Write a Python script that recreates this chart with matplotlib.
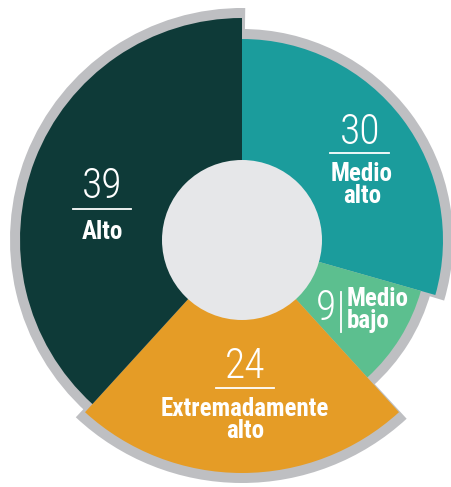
import numpy as np
import matplotlib.pyplot as plt
from matplotlib.patches import Wedge, Circle

# datos (sentido horario desde las 12)
categorias = ['Medio alto', 'Medio bajo', 'Extremadamente alto', 'Alto']
etiquetas = ['Medio\nalto', 'Medio\nbajo', 'Extremadamente\nalto', 'Alto']
valores = [30, 9, 24, 39]

colores = ['#1b9c9c', '#5cbf8f', '#e59c26', '#0e3a38']
radios = [201, 186, 233, 222]   # px
gris = '#bebfc2'
centro = (242, 247)

plt.rcParams['font.family'] = ['Roboto Condensed', 'Roboto', 'DejaVu Sans']

fig = plt.figure(figsize=(4.52, 4.87), dpi=100)
ax = fig.add_axes([0, 0, 1, 1])
ax.set_xlim(0, 452)
ax.set_ylim(0, 487)
ax.set_aspect('equal')
ax.axis('off')

total = sum(valores)
angulos = 90 - 360 * np.cumsum([0] + valores) / total

for i in range(len(valores)):
    a1, a2 = angulos[i + 1], angulos[i]
    ax.add_patch(Wedge(centro, radios[i] + 10, a1 - 0.8, a2 + 0.3, color=gris, lw=0, zorder=1))
for i in range(len(valores)):
    a1, a2 = angulos[i + 1], angulos[i]
    ax.add_patch(Wedge(centro, radios[i], a1, a2, color=colores[i], lw=0, zorder=2))
ax.add_patch(Circle(centro, 80, color='#e6e7e9', lw=0, zorder=3))

num_kw = dict(color='white', fontsize=30, fontweight='light', ha='center', va='center', zorder=5)
lab_kw = dict(color='white', fontsize=18, fontweight='bold', va='center', linespacing=0.85, zorder=5)

# Medio alto
ax.text(360, 487 - 132, str(valores[0]), **num_kw)
ax.plot([330, 389], [487 - 153, 487 - 153], color='white', lw=1.3, zorder=5)
ax.text(362, 487 - 185, etiquetas[0], ha='center', **lab_kw)
# Medio bajo
ax.text(326, 487 - 309, str(valores[1]), **num_kw)
ax.plot([341, 341], [487 - 292, 487 - 332], color='white', lw=1.3, zorder=5)
ax.text(347, 487 - 310, etiquetas[1], ha='left', **lab_kw)
# Extremadamente alto
ax.text(245, 487 - 366, str(valores[2]), **num_kw)
ax.plot([216, 274], [487 - 388, 487 - 388], color='white', lw=1.3, zorder=5)
ax.text(245, 487 - 420, etiquetas[2], ha='center', **lab_kw)
# Alto
ax.text(102, 487 - 187, str(valores[3]), **num_kw)
ax.plot([73, 131], [487 - 209, 487 - 209], color='white', lw=1.3, zorder=5)
ax.text(102, 487 - 232, etiquetas[3], ha='center', **lab_kw)

plt.savefig('out.png', dpi=100)
